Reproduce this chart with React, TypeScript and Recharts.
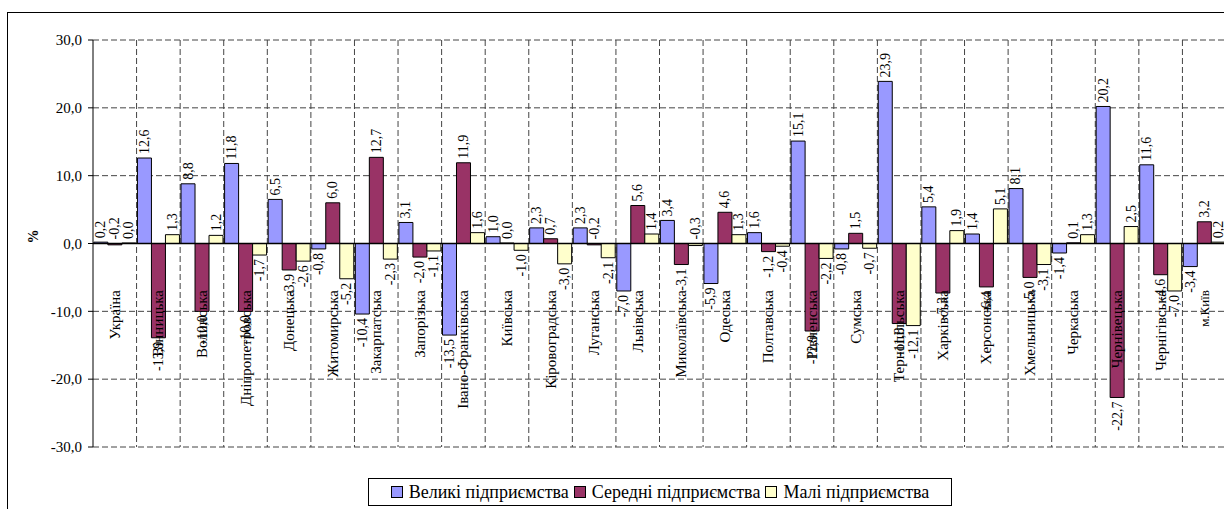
import { BarChart, Bar, XAxis, YAxis, CartesianGrid, ReferenceLine, LabelList } from "recharts";

const categories = [
  "Україна", "Вінницька", "Волинська", "Дніпропетровська", "Донецька", "Житомирська",
  "Закарпатська", "Запорізька", "Івано-Франківська", "Київська", "Кіровоградська",
  "Луганська", "Львівська", "Миколаївська", "Одеська", "Полтавська", "Рівненська",
  "Сумська", "Тернопільська", "Харківська", "Херсонська", "Хмельницька", "Черкаська",
  "Чернівецька", "Чернігівська", "м.Київ",
];

const large = [0.2, 12.6, 8.8, 11.8, 6.5, -0.8, -10.4, 3.1, -13.5, 1.0, 2.3, 2.3, -7.0, 3.4, -5.9, 1.6, 15.1, -0.8, 23.9, 5.4, 1.4, 8.1, -1.4, 20.2, 11.6, -3.4];
const medium = [-0.2, -13.9, -10.0, -10.0, -3.9, 6.0, 12.7, -2.0, 11.9, 0.0, 0.7, -0.2, 5.6, -3.1, 4.6, -1.2, -12.9, 1.5, -11.8, -7.3, -6.4, -5.0, 0.1, -22.7, -4.6, 3.2];
const small = [0.0, 1.3, 1.2, -1.7, -2.6, -5.2, -2.3, -1.1, 1.6, -1.0, -3.0, -2.1, 1.4, -0.3, 1.3, -0.4, -2.2, -0.7, -12.1, 1.9, 5.1, -3.1, 1.3, 2.5, -7.0, 0.2];

const yTicks = [-30, -20, -10, 0, 10, 20, 30];

const series = [
  { key: "large", name: "Великі підприємства", color: "#9999FF" },
  { key: "medium", name: "Середні підприємства", color: "#993366" },
  { key: "small", name: "Малі підприємства", color: "#FFFFCC" },
];

const data = categories.map((name, i) => ({
  name,
  large: large[i],
  medium: medium[i],
  small: small[i],
}));

const FONT = "Liberation Serif";
const LABEL_TOP = 290;

const fmt = (v: number) => v.toFixed(1).replace(".", ",");

// tiny values (down to -0.3) get their label above the axis, as in the source
function ValueLabel(props: any) {
  const { x, y, width, height, value } = props;
  const cx = x + width / 2;
  const top = Math.min(y, y + height);
  const bottom = Math.max(y, y + height);
  const up = value >= -0.3;
  const ly = up ? top - 4 : bottom + 4;
  return (
    <text
      x={cx}
      y={ly}
      transform={`rotate(-90, ${cx}, ${ly})`}
      textAnchor={up ? "start" : "end"}
      dominantBaseline="central"
      fontFamily={FONT}
      fontSize={14}
      fill="#000"
    >
      {fmt(value)}
    </text>
  );
}

function CategoryTick(props: any) {
  const { x, payload } = props;
  const small = payload.value === "м.Київ";
  return (
    <text
      x={x}
      y={LABEL_TOP}
      transform={`rotate(-90, ${x}, ${LABEL_TOP})`}
      textAnchor="end"
      dominantBaseline="central"
      fontFamily={FONT}
      fontSize={small ? 13 : 15}
      fill="#000"
    >
      {payload.value}
    </text>
  );
}

export default function App() {
  return (
    <div style={{ position: "absolute", left: 0, top: 0, width: 1224, height: 509, overflow: "hidden", background: "#fff" }}>
      <div style={{ position: "absolute", left: 7, top: 12, width: 1240, height: 520, border: "1px solid #000" }} />
      <div style={{ position: "absolute", left: 0, top: 0 }}>
        <BarChart
          width={1232}
          height={509}
          data={data}
          margin={{ top: 40, right: 6, bottom: 61, left: 35 }}
          barCategoryGap="2%"
          barGap={0}
        >
          <CartesianGrid
            stroke="#444"
            strokeDasharray="6 3"
            verticalCoordinatesGenerator={({ offset }: any) =>
              categories.map((_, i) => offset.left + ((i + 1) * offset.width) / categories.length)
            }
          />
          <XAxis dataKey="name" axisLine={false} tickLine={false} height={1} tick={<CategoryTick />} interval={0} />
          <YAxis
            domain={[-30, 30]}
            ticks={yTicks}
            width={58}
            interval={0}
            axisLine={{ stroke: "#000" }}
            tickLine={{ stroke: "#000" }}
            tickSize={5}
            tickMargin={6}
            tickFormatter={fmt}
            tick={{ fontFamily: FONT, fontSize: 15, fill: "#000" }}
            label={{ value: "%", angle: -90, position: "insideLeft", offset: -2, style: { fontFamily: FONT, fontSize: 14, fontWeight: "bold", fill: "#000" } }}
          />
          {series.map((s) => (
            <Bar key={s.key} dataKey={s.key} name={s.name} fill={s.color} stroke="#000" strokeWidth={1} minPointSize={0.5} isAnimationActive={false}>
              <LabelList dataKey={s.key} content={<ValueLabel />} />
            </Bar>
          ))}
          <ReferenceLine y={0} stroke="#000" strokeWidth={1.5} />
        </BarChart>
      </div>
      <div
        style={{
          position: "absolute",
          left: 368,
          top: 478,
          width: 584,
          height: 28,
          border: "1px solid #000",
          boxSizing: "border-box",
          display: "flex",
          alignItems: "center",
          justifyContent: "center",
          gap: 5,
          whiteSpace: "nowrap",
          overflow: "hidden",
          fontFamily: FONT,
          fontSize: 18,
          color: "#000",
        }}
      >
        {series.map((s) => (
          <span key={s.key} style={{ display: "flex", alignItems: "center", gap: 6 }}>
            <span style={{ width: 10, height: 10, background: s.color, border: "1px solid #000", display: "inline-block" }} />
            {s.name}
          </span>
        ))}
      </div>
    </div>
  );
}
